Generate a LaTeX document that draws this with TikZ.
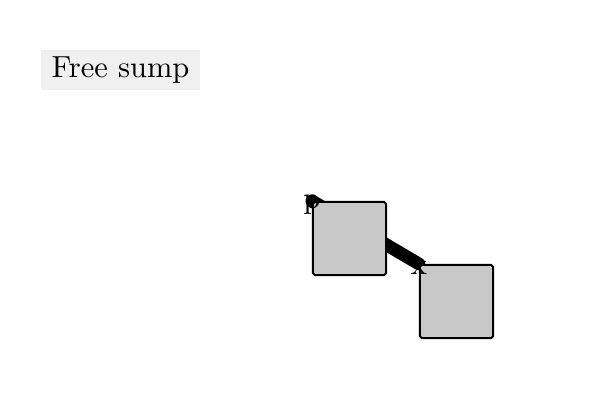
\documentclass[tikz,border=0pt]{standalone}
\usepackage{amsmath}
\usepackage{xcolor}
\usetikzlibrary{backgrounds}
\definecolor{boxgray}{HTML}{C8C8C8}
\definecolor{tagbg}{HTML}{F0F0F0}

\begin{document}
\begin{tikzpicture}[x=0.328pt, y=-0.328pt,
    blockbox/.style={draw=black, fill=boxgray, line width=0.65pt, rounded corners=0.6pt,
      minimum size=24pt, inner sep=0pt},
    tag/.style={fill=tagbg, inner xsep=3.4pt, inner ysep=2.2pt},
    pin label/.style={inner sep=0pt, font=\normalsize, yshift=-1.2pt}]
    \useasboundingbox (0,0) rectangle (600,400);

    \node[tag] (title) at (120.5,70) {Free sump};

    \node[blockbox] (upper) at (349.5,238.5) {};
    \node[blockbox] (lower) at (456.5,301.5) {};

    % link runs behind both blocks
    \begin{scope}[on background layer]
      \draw[line width=4.2pt, line cap=round] (upper.north west) -- (lower.north west);
    \end{scope}

    \node[pin label] (p) at (upper.north west) {p};
    \node[pin label] (x) at (lower.north west) {x};
  \end{tikzpicture}
\end{document}
